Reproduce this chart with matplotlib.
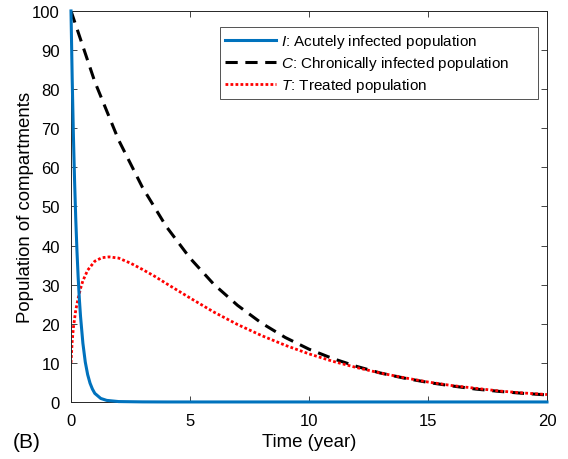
import matplotlib.pyplot as plt

plt.rcParams["font.family"] = ["Liberation Sans", "DejaVu Sans"]
plt.rcParams["mathtext.fontset"] = "custom"
plt.rcParams["mathtext.it"] = "Liberation Sans:italic"
plt.rcParams["mathtext.rm"] = "Liberation Sans"

# Acutely infected population I
t_i = [0, 0.05, 0.1, 0.15, 0.2, 0.25, 0.3, 0.35, 0.4, 0.5, 0.6, 0.7, 0.8, 0.9,
       1.0, 1.25, 1.5, 2.0, 3.0, 4.0, 6.0, 10.0, 20.0]
i_vals = [100, 82.7, 68.4, 56.6, 46.8, 38.7, 32.0, 26.4, 21.9, 15.0, 10.2, 7.0,
          4.8, 3.3, 2.2, 0.9, 0.4, 0.1, 0.02, 0.0, 0.0, 0.0, 0.0]

# Chronically infected population C
t_c = list(range(0, 21))
c_vals = [100, 81.9, 67.0, 54.9, 44.9, 36.8, 30.1, 24.7, 20.2, 16.5, 13.5,
          11.1, 9.1, 7.4, 6.1, 5.0, 4.1, 3.3, 2.7, 2.2, 1.8]

# Treated population T
t_t = [0, 0.05, 0.1, 0.2, 0.3, 0.4, 0.5, 0.7, 1.0, 1.3, 1.6, 2.0, 2.5, 3.0,
       3.5, 4, 5, 6, 7, 8, 9, 10, 11, 12, 13, 14, 15, 16, 17, 18, 19, 20]
t_vals = [10, 15.5, 19, 23.5, 26.5, 29, 31, 33.7, 36, 36.9, 37.1, 36.8, 35.5,
          33.9, 32.2, 30.3, 26.6, 23, 19.8, 17, 14.5, 12.3, 10.4, 8.8, 7.4,
          6.2, 5.1, 4.2, 3.5, 2.8, 2.3, 1.9]

fig = plt.figure(figsize=(5.68, 4.6), dpi=100)
ax = fig.add_axes([0.125, 0.124, 0.838, 0.85])

ax.plot(t_i, i_vals, color="#0072BD", lw=2.2, clip_on=False, zorder=3,
        label=r"$\it{I}$: Acutely infected population")
ax.plot(t_c, c_vals, color="black", lw=2.2, dashes=(4, 2.5),
        label=r"$\it{C}$: Chronically infected population")
ax.plot(t_t, t_vals, color="red", lw=2.0, dashes=(1, 0.8),
        label=r"$\it{T}$: Treated population")

ax.set_xlim(0, 20)
ax.set_ylim(0, 100)
ax.set_xticks([0, 5, 10, 15, 20])
ax.set_yticks(range(0, 101, 10))
ax.tick_params(direction="in", length=4, width=0.6, top=True, right=True,
               labelsize=12, colors="#262626", labelcolor="black", pad=8)
for s in ax.spines.values():
    s.set_color("#262626")
    s.set_linewidth(0.7)

ax.set_xlabel("Time (year)", fontsize=13.4)
ax.set_ylabel("Population of compartments", fontsize=13.4)
ax.xaxis.set_label_coords(0.5, -0.08)
ax.yaxis.set_label_coords(-0.078, 0.5)

leg = ax.legend(loc="upper left", bbox_to_anchor=(0.313, 0.0, 0.668, 0.959),
                mode="expand", borderaxespad=0, fontsize=11, fancybox=False,
                handlelength=3.34, handletextpad=0.33, labelspacing=0.26,
                borderpad=0.33)
leg.get_frame().set_edgecolor("#262626")
leg.get_frame().set_linewidth(0.7)

fig.text(0.022, 0.039, "(B)", fontsize=15, va="center", ha="left")

plt.savefig("out.png", dpi=100)
plt.close()
